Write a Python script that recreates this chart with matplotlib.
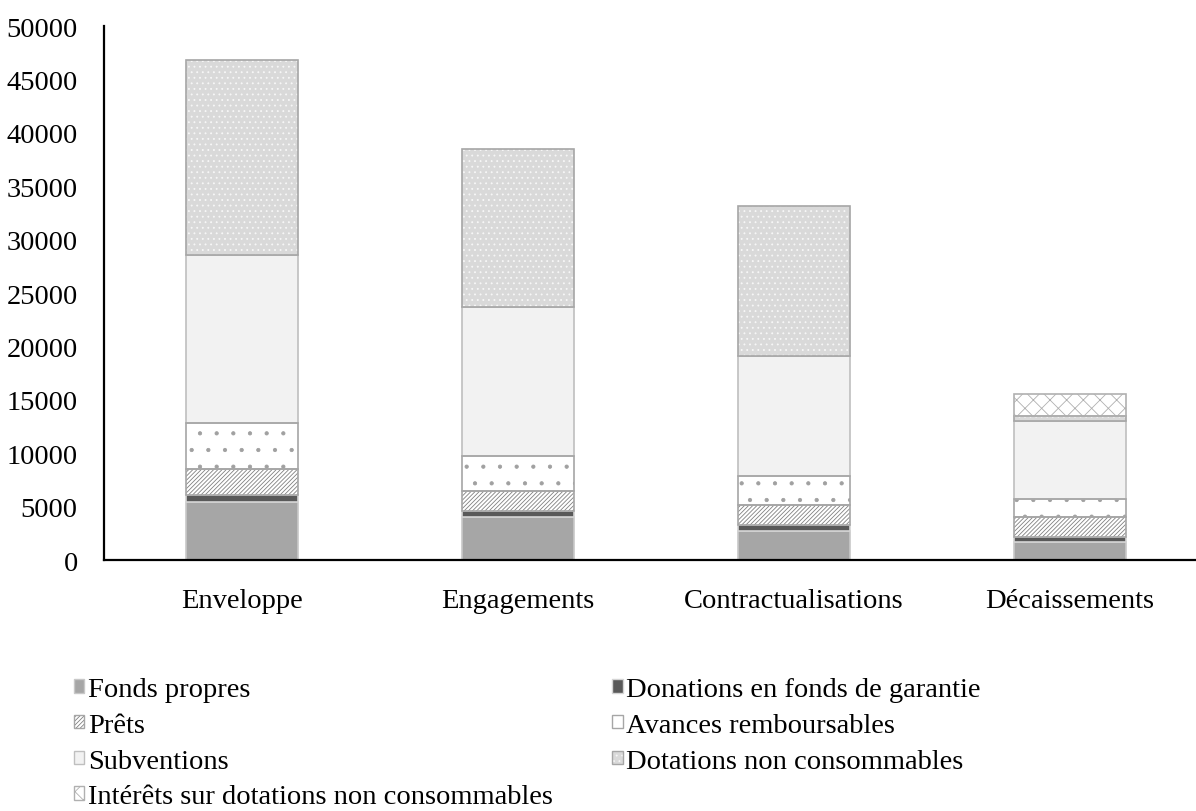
import matplotlib
matplotlib.use("Agg")
import matplotlib.pyplot as plt
from matplotlib.patches import Patch
from matplotlib.legend_handler import HandlerTuple
import numpy as np

categories = ["Enveloppe", "Engagements", "Contractualisations", "Décaissements"]

fonds_propres = [5400, 4000, 2700, 1700]
donations_garantie = [650, 550, 550, 500]
prets = [2450, 1950, 1870, 1800]
avances = [4300, 3200, 2700, 1700]
subventions = [15800, 14000, 11300, 7300]
dotations = [18200, 14800, 14000, 500]
interets = [0, 0, 0, 2000]

series_names = [
    "Fonds propres",
    "Donations en fonds de garantie",
    "Prêts",
    "Avances remboursables",
    "Subventions",
    "Dotations non consommables",
    "Intérêts sur dotations non consommables",
]
yticks = [0, 5000, 10000, 15000, 20000, 25000, 30000, 35000, 40000, 45000, 50000]

plt.rcParams["font.family"] = ["Liberation Serif", "DejaVu Serif"]
plt.rcParams["hatch.linewidth"] = 0.6
FS = 20.5

fig = plt.figure(figsize=(11.96, 8.12), dpi=100)
ax = fig.add_axes([0.0870, 0.3091, 0.9231, 0.6576])

x = np.arange(len(categories))
width = 0.405
bottom = np.zeros(len(categories))

# (face, hatch colour, hatch, outline)
styles = [
    ("#a6a6a6", None, None, "#c8c8c8"),
    ("#595959", None, None, "#d4d4d4"),
    ("white", "#808080", "////////", "#a6a6a6"),
    ("white", "#a0a0a0", ".", "#a6a6a6"),
    ("#f2f2f2", None, None, "#bfbfbf"),
    ("#d9d9d9", "#f7f7f7", "...", "#a6a6a6"),
    ("white", "#b0b0b0", "xx", "#b0b0b0"),
]

all_series = [fonds_propres, donations_garantie, prets, avances, subventions, dotations, interets]
handles = []
for vals, name, (fc, hc, hatch, oc) in zip(all_series, series_names, styles):
    vals = np.array(vals, dtype=float)
    if hatch:
        ax.bar(x, vals, width, bottom=bottom, facecolor=fc, edgecolor=hc,
               hatch=hatch, linewidth=0, zorder=2)
        ax.bar(x, np.where(vals > 0, vals, np.nan), width, bottom=bottom, fill=False,
               edgecolor=oc, linewidth=1.2, zorder=3)
        h = (Patch(facecolor=fc, edgecolor=hc, hatch=hatch, linewidth=0),
             Patch(fill=False, edgecolor=oc, linewidth=1.0))
    else:
        ax.bar(x, vals, width, bottom=bottom, facecolor=fc, edgecolor=oc,
               linewidth=1.2, zorder=2)
        h = Patch(facecolor=fc, edgecolor=oc, linewidth=1.0)
    handles.append(h)
    bottom += vals

ax.set_ylim(0, 50000)
ax.set_xlim(-0.5, len(categories) - 0.5)
ax.set_yticks(yticks)
ax.set_yticklabels([str(v) for v in yticks])
ax.set_xticks(x)
ax.set_xticklabels(categories)
ax.tick_params(axis="both", length=0, labelsize=FS)
ax.tick_params(axis="y", pad=19)
ax.tick_params(axis="x", pad=20)
for s in ["top", "right"]:
    ax.spines[s].set_visible(False)
for s in ["left", "bottom"]:
    ax.spines[s].set_linewidth(1.6)
    ax.spines[s].set_color("black")

leg_kw = dict(loc="upper left", frameon=False, fontsize=FS, handlelength=0.36,
              handleheight=0.36, handletextpad=0.12, labelspacing=0.38,
              borderpad=0, borderaxespad=0,
              handler_map={tuple: HandlerTuple(ndivide=1, pad=0)})
left_idx = [0, 2, 4, 6]
right_idx = [1, 3, 5]
leg1 = fig.legend([handles[i] for i in left_idx], [series_names[i] for i in left_idx],
                  bbox_to_anchor=(0.062, 0.165), **leg_kw)
leg2 = fig.legend([handles[i] for i in right_idx], [series_names[i] for i in right_idx],
                  bbox_to_anchor=(0.512, 0.165), **leg_kw)

fig.savefig("out.png", dpi=100)
